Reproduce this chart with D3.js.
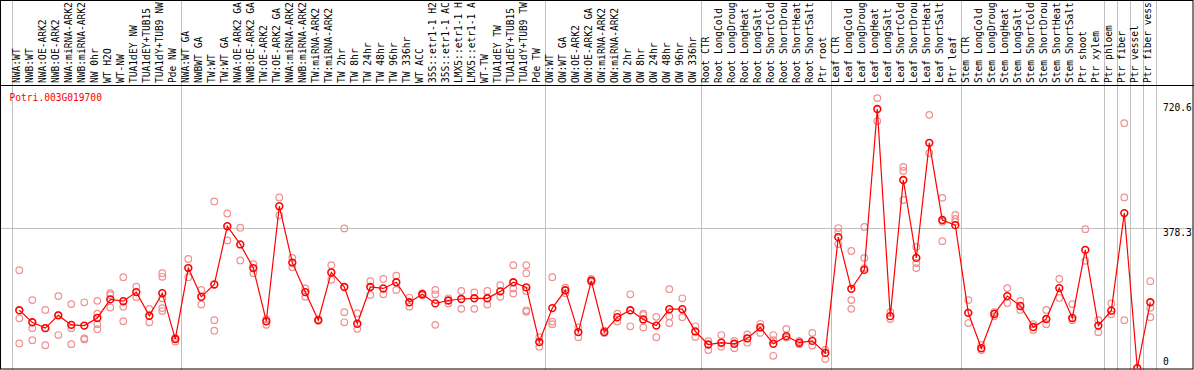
<!DOCTYPE html>
<html lang="en">
<head>
<meta charset="UTF-8">
<title>Potri.003G019700</title>
<script src="https://d3js.org/d3.v7.min.js"></script>
<style>
    body { margin: 0; background: #fff; }
    text { font-family: "DejaVu Sans Mono", monospace; font-size: 9.6px; }
</style>
</head>
<body>
<svg width="1194" height="370"></svg>
<script>
    // sample names, left to right (as far as they show in the header)
    const labels = [
        "NWA:WT", "NWB:WT", "NWA:OE-ARK2", "NWB:OE-ARK2", "NWA:miRNA-ARK2", "NWB:miRNA-ARK2",
        "NW 0hr", "WT H2O", "WT-NW", "TUA1dEY NW", "TUA1dEY+TUB15", "TUA1dY+TUB9 NW", "Pde NW",
        "NWA:WT GA", "NWBWT GA", "TW:WT", "TW:WT GA", "NWA:OE-ARK2 GA", "NWB:OE-ARK2 GA",
        "TW:OE-ARK2", "TW:OE-ARK2 GA", "NWA:miRNA-ARK2", "NWB:miRNA-ARK2", "TW:miRNA-ARK2", "TW:miRNA-ARK2",
        "TW 2hr", "TW 8hr", "TW 24hr", "TW 48hr", "TW 96hr", "TW 336hr", "WT ACC",
        "35S::etr1-1 H2", "35S::etr1-1 AC", "LMX5::etr1-1 H", "LMX5::etr1-1 A",
        "WT-TW", "TUA1dEY TW", "TUA1dEY+TUB15", "TUA1dY+TUB9 TW", "Pde TW",
        "OW:WT", "OW:WT GA", "OW:OE-ARK2", "OW:OE-ARK2 GA", "OW:miRNA-ARK2", "OW:miRNA-ARK2",
        "OW 2hr", "OW 8hr", "OW 24hr", "OW 48hr", "OW 96hr", "OW 336hr",
        "Root CTR", "Root LongCold", "Root LongDroug", "Root LongHeat", "Root LongSalt",
        "Root ShortCold", "Root ShortDrou", "Root ShortHeat", "Root ShortSalt", "Ptr root",
        "Leaf CTR", "Leaf LongCold", "Leaf LongDroug", "Leaf LongHeat", "Leaf LongSalt",
        "Leaf ShortCold", "Leaf ShortDrou", "Leaf ShortHeat", "Leaf ShortSalt", "Ptr leaf",
        "Stem CTR", "Stem LongCold", "Stem LongDroug", "Stem LongHeat", "Stem LongSalt",
        "Stem ShortCold", "Stem ShortDrou", "Stem ShortHeat", "Stem ShortSalt",
        "Ptr shoot", "Ptr xylem", "Ptr phloem", "Ptr fiber", "Ptr vessel", "Ptr fiber vess"
    ];

    // mean expression per sample
    const means = [
        153, 120, 104, 139, 113, 111, 132, 183, 178, 203, 138, 200, 74,
        269, 190, 224, 384, 334, 269, 123, 439, 284, 203, 126, 257, 217, 116,
        217, 213, 230, 175, 197, 172, 180, 184, 186, 186, 205, 230, 216, 66,
        159, 208, 93, 234, 93, 134, 153, 128, 111, 156, 156, 95,
        59, 64, 61, 76, 106, 61, 82, 64, 69, 36,
        354, 212, 264, 706, 137, 511, 297, 613, 401, 387,
        146, 49, 143, 192, 165, 107, 129, 214, 132,
        319, 111, 152, 420, -6, 175
    ];

    // replicate values per sample
    const reps = [
        [263, 131, 62], [181, 104, 71], [154, 57, 104], [192, 85, 140], [170, 104, 60], [175, 76, 73],
        [179, 144, 115, 101], [200, 195, 161], [244, 163, 123], [218, 189], [157, 120],
        [255, 245, 186, 159, 151], [67, 77],
        [294, 244], [209, 169], [452, 126, 97], [419, 345], [380, 290], [280, 255], [129, 113],
        [463, 414], [297, 271], [213, 190], [128, 124], [277, 237], [378, 148, 120], [145, 102],
        [233, 195], [239, 197], [248, 209], [188, 163], [200, 194], [209, 197, 113], [186, 172],
        [206, 157], [202, 157], [206, 169], [222, 190], [277, 213, 199], [277, 255, 206, 153, 149],
        [79, 53],
        [244, 122, 115], [215, 200], [106, 79], [239, 231], [97, 91], [144, 122], [197, 109],
        [144, 140, 106], [135, 79], [211, 137, 118], [186, 134], [109, 80],
        [68, 44], [85, 53], [69, 49], [87, 64], [116, 91], [85, 71, 28], [102, 78], [69, 60],
        [91, 56], [44, 19],
        [379, 368, 335], [316, 181, 157], [382, 297, 269], [736, 673], [148, 129], [547, 536, 456],
        [327, 283, 269], [690, 585], [462, 396, 343], [415, 404, 396],
        [181, 118], [58, 44], [148, 137], [214, 173], [179, 154], [115, 99], [154, 115], [239, 187],
        [170, 126],
        [376, 289], [126, 93], [172, 142], [667, 463, 126], [-6], [233, 160, 134]
    ];

    const yTicks = [0, 378.3, 720.6];
    const gridValue = 378.3;
    // a separator line is drawn after each of these samples
    const groupEnds = [-1, 12, 40, 52, 62, 72, 83, 84, 85, 86, 87];

    const W = 1194, H = 370, headerBottom = 85.5;

    const x = d3.scaleLinear().domain([0, labels.length - 1]).range([19.3, 1150.3]);
    const y = d3.scaleLinear().domain([0, 720.6]).range([366, 103.7]);

    const svg = d3.select("svg");

    // separators
    svg.append("g").selectAll("line")
        .data(groupEnds)
        .join("line")
        .attr("x1", d => Math.round(x(d + 0.5) - 1) + 0.5)
        .attr("x2", d => Math.round(x(d + 0.5) - 1) + 0.5)
        .attr("y1", 0).attr("y2", H)
        .attr("stroke", "#c0c0c0");

    // horizontal grid line
    svg.append("line")
        .attr("x1", 1).attr("x2", W - 1)
        .attr("y1", Math.round(y(gridValue)) + 0.5).attr("y2", Math.round(y(gridValue)) + 0.5)
        .attr("stroke", "#c0c0c0");

    // frame
    svg.append("rect")
        .attr("x", 0.5).attr("y", 0.5)
        .attr("width", W - 1.5).attr("height", H - 1.5)
        .attr("fill", "none").attr("stroke", "#000");
    svg.append("line")
        .attr("x1", 0).attr("x2", W)
        .attr("y1", headerBottom).attr("y2", headerBottom)
        .attr("stroke", "#000");

    // sample labels
    svg.append("g").selectAll("text")
        .data(labels)
        .join("text")
        .attr("transform", (d, i) => "translate(" + (x(i) + 0.5) + ",83) rotate(-90)")
        .attr("fill", "#000")
        .text(d => d);

    // title
    svg.append("text")
        .attr("x", 9.5).attr("y", 101)
        .attr("fill", "#ff0000")
        .text("Potri.003G019700");

    // y tick labels
    svg.append("g").selectAll("text")
        .data(yTicks)
        .join("text")
        .attr("x", 1163)
        .attr("y", d => Math.min(y(d) + 7.5, 365))
        .attr("fill", "#000")
        .text(d => d === 0 ? "0" : d3.format(".1f")(d));

    // replicate points
    const repPts = [];
    reps.forEach((r, i) => r.forEach(v => repPts.push({i: i, v: v})));
    svg.append("g").selectAll("circle")
        .data(repPts)
        .join("circle")
        .attr("cx", d => x(d.i))
        .attr("cy", d => y(d.v))
        .attr("r", 3.3)
        .attr("fill", "none")
        .attr("stroke", "#f09090")
        .attr("stroke-width", 1.2);

    // mean line
    const line = d3.line()
        .x((d, i) => x(i))
        .y(d => y(d));
    svg.append("path")
        .attr("d", line(means))
        .attr("fill", "none")
        .attr("stroke", "#ff0000")
        .attr("stroke-width", 1.2);

    // mean points
    svg.append("g").selectAll("circle")
        .data(means)
        .join("circle")
        .attr("cx", (d, i) => x(i))
        .attr("cy", d => y(d))
        .attr("r", 3.4)
        .attr("fill", "none")
        .attr("stroke", "#ff0000")
        .attr("stroke-width", 1.6);
</script>
</body>
</html>
